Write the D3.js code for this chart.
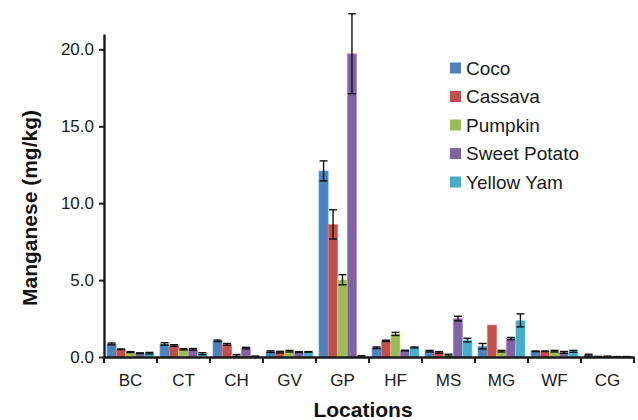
<!DOCTYPE html>
<html>
<head>
<meta charset="utf-8">
<script src="https://cdn.jsdelivr.net/npm/d3@7"></script>
<style>
  body { margin: 0; background: #fff; }
  svg { display: block; font-family: "Liberation Sans", Arial, Helvetica, sans-serif; }
  .axis path, .axis line { stroke: #1a1a1a; }
</style>
</head>
<body>
<svg id="chart"></svg>
<script>
const locations = ["BC", "CT", "CH", "GV", "GP", "HF", "MS", "MG", "WF", "CG"];
const seriesNames = ["Coco", "Cassava", "Pumpkin", "Sweet Potato", "Yellow Yam"];
const seriesColors = ["#4F81BD", "#C0504D", "#9BBB59", "#8064A2", "#4BACC6"];

const coco = [0.85, 0.85, 1.05, 0.35, 12.1, 0.6, 0.38, 0.7, 0.37, 0.12];
const cocoErr = [0.06, 0.08, 0.05, 0.05, 0.65, 0.05, 0.05, 0.18, 0.02, 0.06];
const cassava = [0.5, 0.75, 0.82, 0.32, 8.62, 1.05, 0.3, 2.08, 0.37, 0.03];
const cassavaErr = [0.02, 0.05, 0.06, 0.05, 0.95, 0.04, 0.05, 0, 0.02, 0.01];
const pumpkin = [0.32, 0.5, 0.1, 0.38, 5.02, 1.5, 0.12, 0.38, 0.38, 0.04];
const pumpkinErr = [0.03, 0.04, 0.06, 0.05, 0.33, 0.1, 0.06, 0.05, 0.05, 0.01];
const sweetPotato = [0.25, 0.5, 0.58, 0.32, 19.72, 0.42, 2.5, 1.2, 0.3, 0.02];
const sweetPotatoErr = [0.02, 0.05, 0.05, 0.03, 2.6, 0.02, 0.15, 0.07, 0.06, 0.01];
const yellowYam = [0.25, 0.22, 0.04, 0.33, 0.04, 0.62, 1.1, 2.38, 0.37, 0.02];
const yellowYamErr = [0.05, 0.06, 0.02, 0.02, 0.04, 0.03, 0.12, 0.42, 0.06, 0.01];

const yTicks = [0, 5, 10, 15, 20];

const values = [coco, cassava, pumpkin, sweetPotato, yellowYam];
const errors = [cocoErr, cassavaErr, pumpkinErr, sweetPotatoErr, yellowYamErr];

const width = 638, height = 420;
const margin = { top: 34, right: 4, bottom: 63, left: 104 };
const innerW = width - margin.left - margin.right;
const innerH = height - margin.top - margin.bottom;

const svg = d3.select("#chart").attr("width", width).attr("height", height);
const g = svg.append("g").attr("transform", `translate(${margin.left},${margin.top})`);

const x0 = d3.scaleBand().domain(locations).range([0, innerW]).padding(0);
const x1 = d3.scaleBand().domain(seriesNames).range([0, x0.bandwidth()])
  .paddingInner(0).paddingOuter(0.3);
const y = d3.scaleLinear().domain([0, 21]).range([innerH, 0]);
const color = d3.scaleOrdinal().domain(seriesNames).range(seriesColors);

// rows: one per location & series
const rows = [];
locations.forEach((loc, i) => {
  seriesNames.forEach((s, j) => {
    rows.push({ loc, series: s, value: values[j][i], err: errors[j][i] });
  });
});

// bars
g.append("g").selectAll("rect")
  .data(rows)
  .join("rect")
  .attr("x", d => x0(d.loc) + x1(d.series))
  .attr("y", d => y(d.value))
  .attr("width", x1.bandwidth())
  .attr("height", d => y(0) - y(d.value))
  .attr("fill", d => color(d.series))
  .attr("stroke", d => d3.color(color(d.series)).brighter(1.2))
  .attr("stroke-opacity", 0.6)
  .attr("stroke-width", 0.8);

// error bars
const eb = g.append("g").attr("stroke", "#111").attr("stroke-width", 1.4)
  .selectAll("g")
  .data(rows.filter(d => d.err > 0))
  .join("g")
  .attr("transform", d => `translate(${x0(d.loc) + x1(d.series) + x1.bandwidth() / 2},0)`);
eb.append("line")
  .attr("y1", d => y(d.value + d.err))
  .attr("y2", d => y(Math.max(0, d.value - d.err)));
eb.append("line").attr("x1", -4).attr("x2", 4)
  .attr("y1", d => y(d.value + d.err)).attr("y2", d => y(d.value + d.err));
eb.append("line").attr("x1", -4).attr("x2", 4)
  .attr("y1", d => y(Math.max(0, d.value - d.err))).attr("y2", d => y(Math.max(0, d.value - d.err)));

// y axis
const yAxis = g.append("g").attr("class", "axis")
  .call(d3.axisLeft(y).tickValues(yTicks).tickFormat(d3.format(".1f")).tickSize(5).tickSizeOuter(0));
yAxis.select(".domain").attr("stroke-width", 2.4);
yAxis.selectAll(".tick line").attr("stroke-width", 2);
yAxis.selectAll(".tick text").attr("font-size", 17).attr("fill", "#1a1a1a").attr("x", -10);

// x axis: labels centred, ticks at category boundaries
const xAxis = g.append("g").attr("class", "axis")
  .attr("transform", `translate(0,${innerH})`)
  .call(d3.axisBottom(x0).tickSize(0).tickSizeOuter(0));
xAxis.select(".domain").attr("stroke-width", 2.4);
xAxis.selectAll(".tick text").attr("font-size", 17).attr("fill", "#1a1a1a").attr("dy", 0).attr("y", 29);

const boundaries = locations.map(l => x0(l)).concat([innerW]);
xAxis.selectAll(".bound")
  .data(boundaries)
  .join("line")
  .attr("class", "bound")
  .attr("x1", d => d).attr("x2", d => d)
  .attr("y1", 0).attr("y2", 6)
  .attr("stroke", "#1a1a1a").attr("stroke-width", 2);

// axis titles
svg.append("text")
  .attr("x", margin.left + 259).attr("y", 417)
  .attr("text-anchor", "middle")
  .attr("font-size", 21).attr("font-weight", "bold").attr("fill", "#111")
  .text("Locations");
svg.append("text")
  .attr("transform", "translate(37,208) rotate(-90)")
  .attr("text-anchor", "middle")
  .attr("font-size", 21).attr("font-weight", "bold").attr("fill", "#111")
  .text("Manganese (mg/kg)");

// legend
const legend = svg.append("g").attr("transform", "translate(450,68)")
  .selectAll("g")
  .data(seriesNames)
  .join("g")
  .attr("transform", (d, i) => `translate(0,${i * 28.5})`);
legend.append("rect")
  .attr("x", 0).attr("y", -5.5).attr("width", 11).attr("height", 11)
  .attr("fill", d => color(d));
legend.append("text")
  .attr("x", 16).attr("dy", "0.36em")
  .attr("font-size", 19).attr("fill", "#1a1a1a")
  .text(d => d);
</script>
</body>
</html>
